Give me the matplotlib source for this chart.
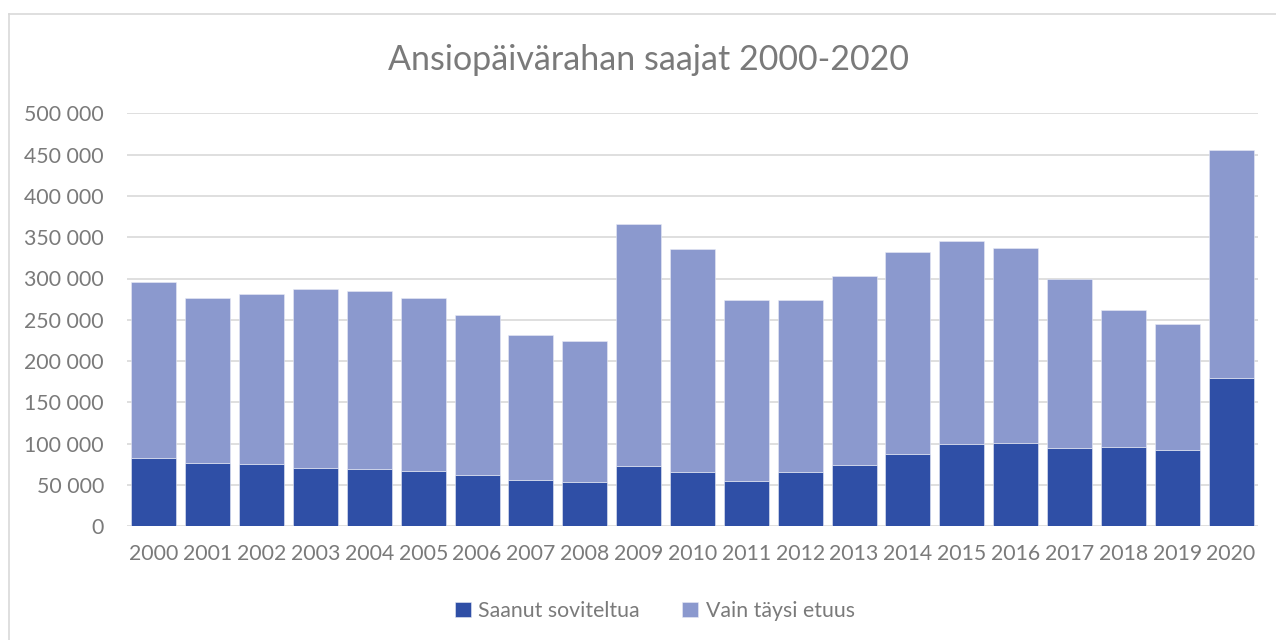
import matplotlib
matplotlib.use("Agg")
import matplotlib.pyplot as plt
from matplotlib.ticker import FuncFormatter
from matplotlib.lines import Line2D

years = [str(y) for y in range(2000, 2021)]
saanut_soviteltua = [83000, 77000, 75800, 70600, 69700, 66600, 62100, 56000, 53300, 73000,
                     66100, 55200, 65400, 74200, 87900, 100000, 101200, 95200, 95600, 92400, 179900]
totals = [296100, 276400, 280900, 286900, 285200, 276000, 255400, 232000, 224300, 366300,
          336100, 273600, 274000, 302700, 332100, 345400, 336900, 299400, 261500, 244900, 455900]
vain_taysi = [t - s for t, s in zip(totals, saanut_soviteltua)]

title = "Ansiopäivärahan saajat 2000-2020"
series_names = ["Saanut soviteltua", "Vain täysi etuus"]

plt.rcParams['font.family'] = ['Lato', 'DejaVu Sans']
text_color = "#7a7a7a"
dark = "#2f4fa6"
light = "#8b99ce"

fig = plt.figure(figsize=(12.76, 6.4), dpi=100)
ax = fig.add_axes([127/1276, 1 - 526.3/640, (1258 - 127)/1276, (526.3 - 113.3)/640])

x = range(len(years))
ax.bar(x, saanut_soviteltua, width=0.835, color=dark, label=series_names[0], zorder=3,
       edgecolor="#e8ebf5", linewidth=0.4)
ax.bar(x, vain_taysi, bottom=saanut_soviteltua, width=0.835, color=light, label=series_names[1],
       zorder=3, edgecolor="#e8ebf5", linewidth=0.4)

ax.set_xlim(-0.5, len(years) - 0.5)
ax.set_ylim(0, 500000)
ax.set_yticks(range(0, 500001, 50000))
ax.yaxis.set_major_formatter(FuncFormatter(lambda v, p: f"{int(v):,}".replace(",", " ")))
ax.set_xticks(list(x))
ax.set_xticklabels(years)
ax.grid(axis='y', color="#d9d9d9", linewidth=1.2, zorder=0)
for s in ax.spines.values():
    s.set_visible(False)
ax.tick_params(axis='both', length=0, colors=text_color, labelsize=15.3)
ax.tick_params(axis='y', pad=16.5)
ax.tick_params(axis='x', pad=13)

fig.text(0.508, 1 - 60/640, title, ha='center', va='center', fontsize=24.5, color=text_color)

handles, labels = ax.get_legend_handles_labels()
leg = fig.legend(handles, labels, loc='center', bbox_to_anchor=(0.513, 1 - 611/640), ncol=2,
                 frameon=False, fontsize=15.3, handlelength=0.75, handleheight=0.75,
                 columnspacing=2.0, handletextpad=0.35)
for t in leg.get_texts():
    t.set_color(text_color)

# chart border
fig.add_artist(Line2D([8.5/1276, 8.5/1276], [0, 1 - 14/640], transform=fig.transFigure,
                      color="#d9d9d9", linewidth=1.2))
fig.add_artist(Line2D([8.5/1276, 1], [1 - 14/640, 1 - 14/640], transform=fig.transFigure,
                      color="#d9d9d9", linewidth=1.2))

fig.savefig("out.png", dpi=100, facecolor="white")
